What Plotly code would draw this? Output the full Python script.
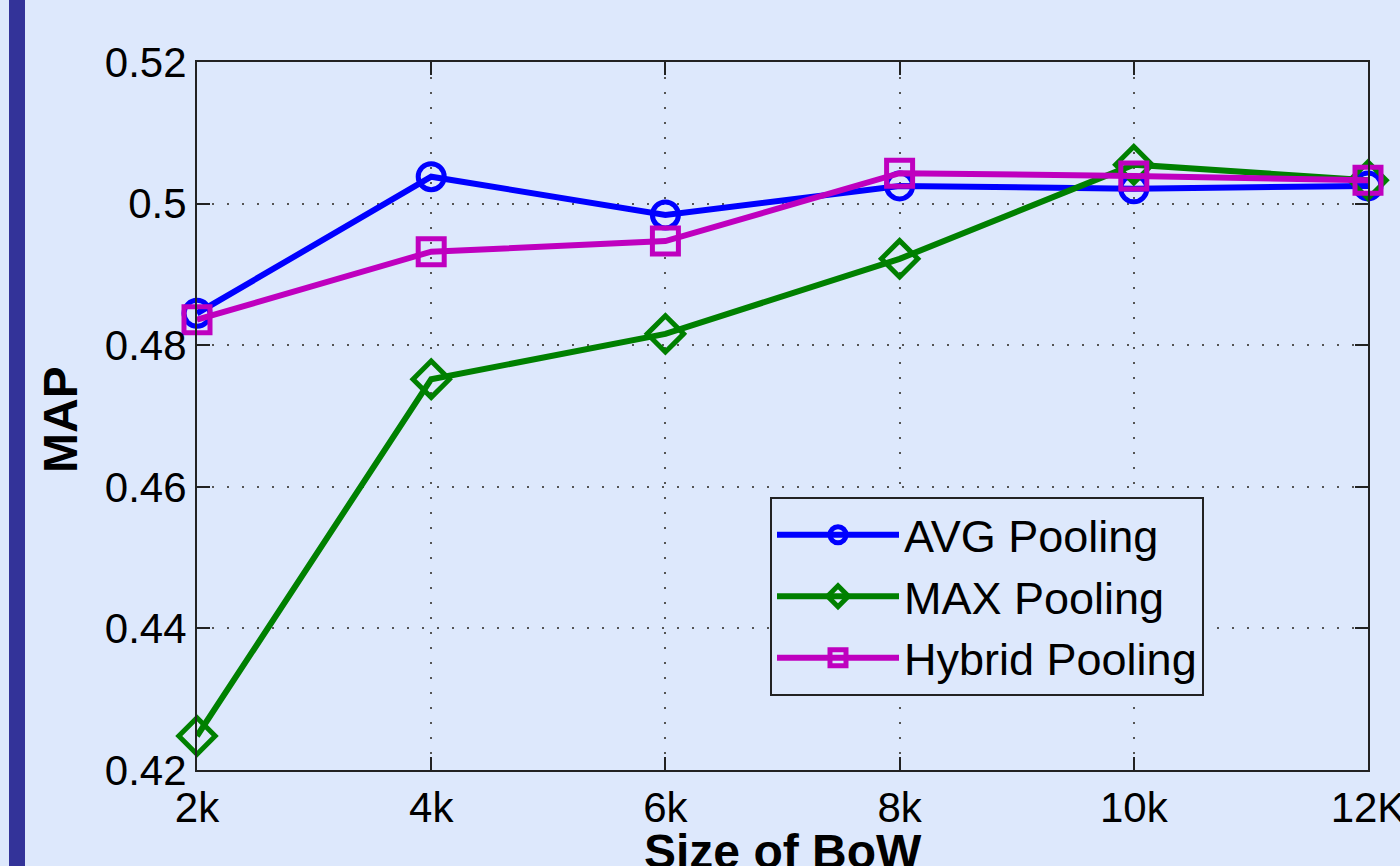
import plotly.graph_objects as go

x_vals = [2, 4, 6, 8, 10, 12]
x_labels = ["2k", "4k", "6k", "8k", "10k", "12K"]
avg_pool = [0.4845, 0.5038, 0.4984, 0.5025, 0.5021, 0.5025]
max_pool = [0.4248, 0.4752, 0.4816, 0.4922, 0.5055, 0.5033]
hybrid_pool = [0.4836, 0.4932, 0.4947, 0.5043, 0.5039, 0.5033]
y_ticks = [0.42, 0.44, 0.46, 0.48, 0.50, 0.52]
y_labels = ["0.42", "0.44", "0.46", "0.48", "0.5", "0.52"]
x_title = "Size of BoW"
y_title = "MAP"

W, H = 1400, 866
L, R, T, B = 197, 32, 62, 96
pw = W - L - R
ph = H - T - B

fig = go.Figure()
series = [
    ("AVG Pooling", avg_pool, "#0000ff", "circle-open", 26),
    ("MAX Pooling", max_pool, "#008000", "diamond-open", 28),
    ("Hybrid Pooling", hybrid_pool, "#bf00bf", "square-open", 26),
]
for name, ys, col, sym, sz in series:
    fig.add_trace(go.Scatter(
        x=x_vals, y=ys, name=name, mode="lines+markers",
        line=dict(color=col, width=6),
        marker=dict(symbol=sym, size=sz, color=col, line=dict(color=col, width=5)),
        cliponaxis=False,
    ))

fig.update_layout(
    width=W, height=H,
    margin=dict(l=L, r=R, t=T, b=B, autoexpand=False),
    paper_bgcolor="#dde8fc",
    plot_bgcolor="#dde8fc",
    font=dict(family="Liberation Sans, Arial, sans-serif", color="black", size=40),
    showlegend=True,
    legend=dict(
        x=(770 - L) / pw, y=(H - B - 497) / ph,
        xanchor="left", yanchor="top",
        bgcolor="#dde8fc", bordercolor="#222222", borderwidth=2,
        font=dict(size=45), itemwidth=122, tracegroupgap=0,
    ),
    shapes=[dict(
        type="rect", xref="paper", yref="paper",
        x0=(9 - L) / pw, x1=(25 - L) / pw, y0=-1, y1=2,
        fillcolor="#333399", line=dict(width=0), layer="below",
    )],
    annotations=[
        dict(text="<b>" + x_title + "</b>", xref="paper", yref="paper",
             x=0.5, y=0, xanchor="center", yanchor="top", yshift=-53,
             showarrow=False, font=dict(size=48)),
        dict(text="<b>" + y_title + "</b>", xref="paper", yref="paper",
             x=(60 - L) / pw, y=(H - B - 420) / ph, xanchor="center", yanchor="middle",
             textangle=-90, showarrow=False, font=dict(size=48)),
    ],
)

axis_common = dict(
    showline=True, linecolor="#222222", linewidth=2, mirror="ticks",
    ticks="inside", ticklen=13, tickcolor="#222222", tickwidth=2,
    showgrid=True, gridcolor="#555555", griddash="2px,13px", gridwidth=2,
    zeroline=False, tickfont=dict(size=42), automargin=False,
    ticklabeloverflow="allow",
)
fig.update_xaxes(range=[2, 12], tickvals=x_vals, ticktext=x_labels, **axis_common)
fig.update_yaxes(range=[0.42, 0.52], tickvals=y_ticks, ticktext=y_labels, **axis_common)

fig.write_html(
    "out.html",
    config={"displayModeBar": False},
    post_script="document.body.style.margin='0';document.body.style.overflow='hidden';",
)
